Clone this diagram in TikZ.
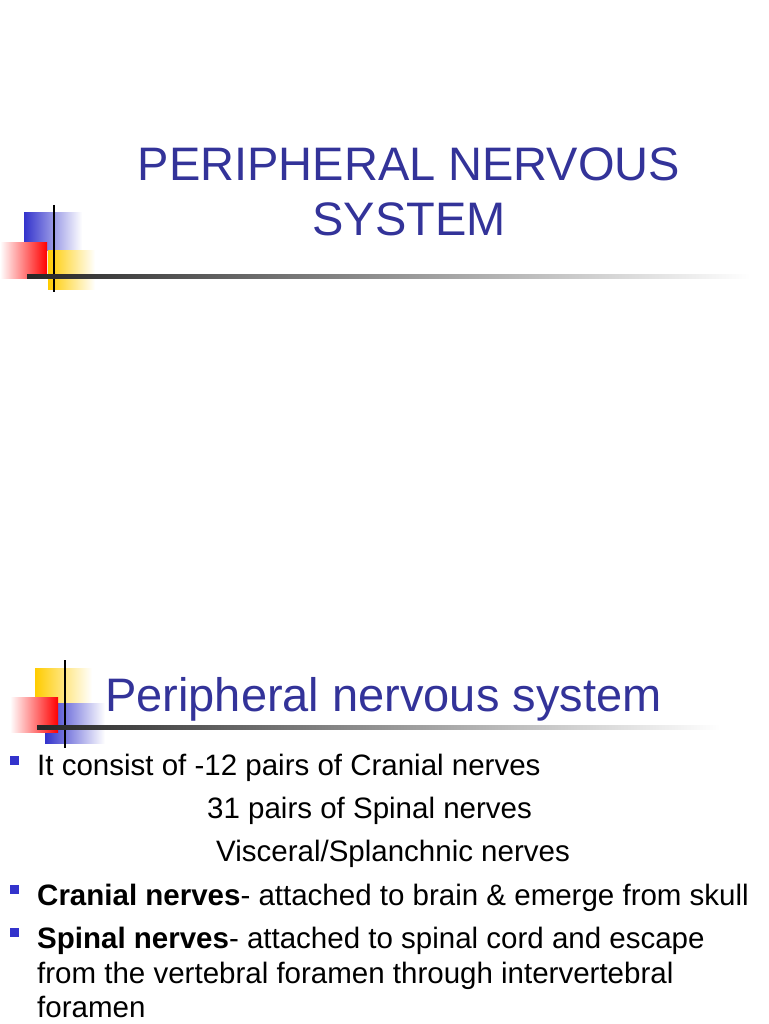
\documentclass[tikz,border=0pt]{standalone}
\usepackage{fontspec}
\setmainfont{Liberation Sans}
\definecolor{titleblue}{RGB}{51,51,153}
\definecolor{sqblue}{RGB}{51,51,204}
\definecolor{sqyellow}{RGB}{255,204,0}
\definecolor{sqred}{RGB}{255,0,0}
\begin{document}
\begin{tikzpicture}[x=1pt,y=-1pt,
    title/.style = {text=titleblue, font=\fontsize{47}{55}\selectfont, align=center},
    head/.style = {text=titleblue, font=\fontsize{47}{52}\selectfont, anchor=base west, inner sep=0},
    txt/.style = {font=\fontsize{29.5}{34}\selectfont, anchor=base west, inner sep=0, align=left},
    bullet/.style = {fill=sqblue, minimum size=9pt, inner sep=0},
    fadeR/.style = {left color=#1, middle color=#1!70, right color=white}
    ]
    \useasboundingbox (0,0) rectangle (768,1024);

    % first slide
    \shade[fadeR=sqblue] (24,213) rectangle (82,250);
    \shade[fadeR=sqyellow] (48,250) rectangle (95,289);
    \shade[left color=white, right color=sqred] (0,242) rectangle (47,278);
    \draw[line width=2pt] (54,205) -- (54,292);
    \shade[left color=black!85, right color=white] (27,274) rectangle (750,278);
    \node[title] (t1) at (409,192) {PERIPHERAL NERVOUS\\SYSTEM};

    % second slide
    \shade[fadeR=sqyellow] (35,668) rectangle (92,703);
    \shade[fadeR=sqblue] (45,703) rectangle (105,743);
    \shade[left color=white, right color=sqred] (10,697) rectangle (58,732);
    \draw[line width=2pt] (65,660) -- (65,748);
    \shade[left color=black!85, right color=white] (37,725) rectangle (720,729);
    \node[head] (t2) at (105,711) {Peripheral nervous system};

    \node[bullet] (b1) at (14,760) {};
    \node[txt] (l1) at (37,775) {It consist of -12 pairs of Cranial nerves};
    \node[txt] (l2) at (207,818) {31 pairs of Spinal nerves};
    \node[txt] (l3) at (216,861) {Visceral/Splanchnic nerves};
    \node[bullet] (b2) at (14,889) {};
    \node[txt] (l4) at (37,905) {\textbf{Cranial nerves}- attached to brain \& emerge from skull};
    \node[bullet] (b3) at (14,932) {};
    \node[txt] (l5) at (37,948) {\textbf{Spinal nerves}- attached to spinal cord and escape};
    \node[txt] (l6) at (37,983) {from the vertebral foramen through intervertebral};
    \node[txt] (l7) at (37,1017) {foramen};
\end{tikzpicture}
\end{document}
